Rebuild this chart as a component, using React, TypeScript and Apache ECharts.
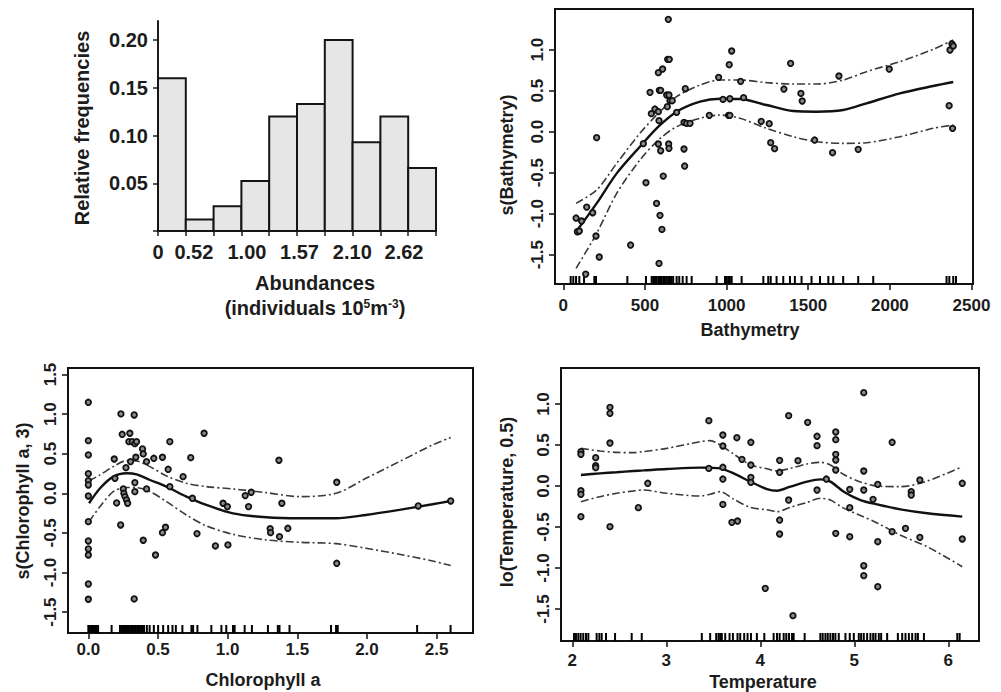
import React, { useEffect, useRef } from "react";
import * as echarts from "echarts";

// ---------- Histogram ----------
const histFreq = [0.16, 0.012, 0.026, 0.0525, 0.12, 0.133, 0.2, 0.093, 0.12, 0.066];
const histTickLabels = ["0", "0.52", "1.00", "1.57", "2.10", "2.62"];
const histTickAt = [0, 1.29, 3.2, 5.09, 6.99, 8.85]; // in bin units
const histYTicks = [0, 0.05, 0.1, 0.15, 0.2];

// ---------- Bathymetry ----------
const bathyX = [78, 112, 86, 98, 143, 180, 200, 137, 220, 204, 412, 490, 506, 531, 539, 561, 582, 571, 592, 604, 612, 596, 582, 586, 582, 608, 588, 596, 586, 643, 639, 649, 633, 647, 637, 653, 667, 645, 647, 694, 747, 739, 755, 776, 739, 743, 894, 951, 978, 1016, 1020, 1012, 1020, 1031, 1086, 1104, 1212, 1261, 1270, 1294, 1351, 1392, 1455, 1463, 1539, 1649, 1688, 1806, 1996, 2363, 2368, 2380, 2384, 2388];
const bathyY = [-1.053, -1.089, -1.22, -1.211, -0.919, -0.988, -1.272, -1.736, -1.528, -0.073, -1.382, -0.146, -0.622, 0.48, 0.22, 0.276, 0.244, -0.874, -1.02, -1.191, -0.541, -0.232, -0.15, -1.606, 0.72, 0.764, 0.504, 0.504, 0.134, 1.37, 0.882, 0.882, 0.447, 0.447, 0.305, 0.378, 0.378, -0.15, -0.203, 0.236, 0.524, 0.114, 0.102, 0.102, -0.211, -0.419, 0.199, 0.663, 0.394, 0.817, 0.402, 0.199, 0.199, 0.984, 0.614, 0.415, 0.126, 0.098, -0.134, -0.207, 0.52, 0.833, 0.467, 0.374, -0.102, -0.256, 0.679, -0.215, 0.764, 0.317, 0.996, 1.069, 0.041, 1.045];
const bathyCurveX = [78, 204, 327, 469, 582, 694, 837, 959, 1082, 1245, 1408, 1551, 1714, 1857, 2061, 2265, 2388];
const bathyFit = [-1.22, -0.874, -0.508, -0.183, 0.061, 0.244, 0.366, 0.402, 0.398, 0.325, 0.252, 0.244, 0.264, 0.346, 0.467, 0.557, 0.606];
const bathyUpper = [-0.874, -0.711, -0.386, -0.02, 0.224, 0.427, 0.569, 0.63, 0.63, 0.598, 0.581, 0.581, 0.63, 0.732, 0.854, 1.004, 1.118];
const bathyLower = [-1.667, -1.24, -0.752, -0.346, -0.102, 0.061, 0.163, 0.203, 0.163, 0.041, -0.061, -0.122, -0.142, -0.134, -0.061, 0.041, 0.081];
const bathyRug = [45, 61, 78, 98, 127, 190, 200, 392, 506, 541, 551, 561, 571, 582, 592, 602, 612, 622, 633, 643, 653, 663, 673, 694, 710, 731, 755, 786, 939, 990, 1000, 1010, 1020, 1031, 1092, 1225, 1255, 1270, 1306, 1347, 1388, 1418, 1459, 1520, 1572, 1623, 1653, 1714, 1806, 1898, 2347, 2364, 2388, 2405];
const bathyXTicks = [0, 500, 1000, 1500, 2000, 2500];
const bathyYTicks = [-1.5, -1, -0.5, 0, 0.5, 1];

// ---------- Chlorophyll a ----------
const chlX = [0, 0, 0, 0, 0, 0, 0, 0, 0, 0, 0, 0, 0, 0.186, 0.191, 0.203, 0.232, 0.234, 0.243, 0.251, 0.255, 0.263, 0.27, 0.274, 0.282, 0.291, 0.298, 0.303, 0.315, 0.334, 0.329, 0.334, 0.334, 0.329, 0.346, 0.341, 0.389, 0.394, 0.394, 0.418, 0.418, 0.47, 0.482, 0.532, 0.532, 0.554, 0.573, 0.585, 0.585, 0.68, 0.735, 0.747, 0.78, 0.831, 0.912, 0.967, 0.998, 1.002, 1.126, 1.15, 1.169, 1.305, 1.308, 1.368, 1.372, 1.389, 1.432, 1.783, 1.783, 2.368, 2.601];
const chlY = [1.149, 0.665, 0.484, 0.248, 0.16, 0.105, -0.034, -0.358, -0.602, -0.703, -0.779, -1.145, -1.338, 0.433, 0.189, -0.122, -0.4, 1.002, 0.745, 0.055, 0.0, -0.042, 0.324, -0.084, -0.126, 0.652, 0.758, 0.4, 0.652, 0.627, 0.989, 0.135, 0.021, -1.334, 0.652, 0.455, 0.56, 0.497, -0.593, 0.4, 0.055, 0.442, -0.779, 0.455, -0.497, -0.429, 0.303, 0.652, 0.084, 0.21, 0.45, -0.063, -0.509, 0.758, -0.665, -0.126, -0.168, -0.652, -0.029, -0.168, 0.013, -0.446, -0.497, 0.417, -0.547, -0.126, -0.442, 0.139, -0.884, -0.16, -0.097];
const chlCurveX = [0.005, 0.084, 0.179, 0.274, 0.346, 0.442, 0.561, 0.704, 0.847, 1.038, 1.277, 1.516, 1.778, 1.993, 2.232, 2.47, 2.601];
const chlFit = [-0.126, 0.063, 0.21, 0.253, 0.24, 0.168, 0.084, -0.042, -0.147, -0.253, -0.303, -0.316, -0.316, -0.274, -0.21, -0.139, -0.097];
const chlUpper = [0.156, 0.232, 0.337, 0.412, 0.408, 0.337, 0.219, 0.126, 0.084, 0.055, 0.008, -0.042, 0.0, 0.189, 0.4, 0.61, 0.703];
const chlLower = [-0.358, -0.168, 0.021, 0.074, 0.072, 0.021, -0.105, -0.274, -0.412, -0.518, -0.589, -0.619, -0.636, -0.694, -0.77, -0.854, -0.913];
const chlRug = [0, 0.01, 0.02, 0.03, 0.04, 0.05, 0.06, 0.07, 0.167, 0.227, 0.24, 0.25, 0.26, 0.27, 0.28, 0.29, 0.3, 0.31, 0.32, 0.33, 0.34, 0.35, 0.36, 0.37, 0.38, 0.39, 0.4, 0.42, 0.44, 0.47, 0.501, 0.537, 0.573, 0.604, 0.628, 0.675, 0.74, 0.752, 0.783, 0.883, 0.955, 0.99, 1.038, 1.05, 1.122, 1.174, 1.289, 1.36, 1.372, 1.444, 1.742, 1.778, 1.79, 2.36, 2.6];
const chlXTicks = [0, 0.5, 1, 1.5, 2, 2.5];
const chlYTicks = [-1.5, -1, -0.5, 0, 0.5, 1, 1.5];

// ---------- Temperature ----------
const tempX = [2.092, 2.092, 2.092, 2.092, 2.092, 2.249, 2.249, 2.249, 2.401, 2.401, 2.401, 2.401, 2.703, 2.803, 3.453, 3.453, 3.602, 3.602, 3.602, 3.602, 3.602, 3.698, 3.758, 3.751, 3.805, 3.9, 3.9, 3.9, 3.9, 4.053, 4.206, 4.206, 4.206, 4.206, 4.302, 4.302, 4.348, 4.401, 4.504, 4.604, 4.604, 4.604, 4.703, 4.803, 4.803, 4.803, 4.803, 4.803, 4.803, 4.952, 4.952, 4.952, 5.101, 5.101, 5.101, 5.101, 5.101, 5.2, 5.25, 5.25, 5.25, 5.403, 5.403, 5.545, 5.606, 5.606, 5.698, 5.698, 6.149, 6.149];
const tempY = [0.419, 0.386, -0.057, -0.102, -0.374, 0.346, 0.248, 0.224, 0.959, 0.886, 0.524, -0.496, -0.264, 0.033, 0.797, 0.215, 0.622, 0.488, 0.228, 0.085, -0.224, -0.443, -0.427, 0.589, 0.325, 0.533, 0.256, 0.106, 0.045, -1.248, 0.313, 0.167, -0.415, -0.585, 0.858, -0.171, -1.581, 0.309, 0.776, 0.606, 0.492, -0.049, 0.085, 0.659, 0.565, 0.386, 0.317, 0.195, -0.577, -0.041, -0.264, -0.618, 1.138, 0.183, -0.049, -0.972, -1.093, -0.163, 0.02, -0.679, -1.228, 0.533, -0.557, -0.516, -0.069, -0.11, 0.073, -0.626, 0.033, -0.646];
const tempCurveX = [2.092, 2.295, 2.472, 2.65, 2.757, 3.005, 3.361, 3.467, 3.574, 3.716, 3.893, 4.071, 4.178, 4.32, 4.497, 4.639, 4.746, 4.888, 5.066, 5.243, 5.492, 5.776, 6.149];
const tempFit = [0.134, 0.154, 0.168, 0.183, 0.19, 0.207, 0.224, 0.222, 0.215, 0.154, 0.053, -0.037, -0.057, -0.008, 0.053, 0.081, 0.053, -0.069, -0.171, -0.224, -0.285, -0.333, -0.374];
const tempUpper = [0.459, 0.427, 0.41, 0.407, 0.42, 0.459, 0.541, 0.553, 0.5, 0.39, 0.26, 0.21, 0.183, 0.215, 0.268, 0.289, 0.256, 0.14, 0.05, 0.0, -0.008, 0.06, 0.236];
const tempLower = [-0.191, -0.13, -0.089, -0.06, -0.049, -0.089, -0.122, -0.1, -0.069, -0.16, -0.26, -0.29, -0.313, -0.26, -0.2, -0.15, -0.171, -0.27, -0.36, -0.45, -0.6, -0.74, -0.984];
const tempRug = [2.018, 2.039, 2.064, 2.089, 2.117, 2.146, 2.171, 2.259, 2.288, 2.313, 2.359, 2.455, 2.632, 2.739, 3.378, 3.467, 3.531, 3.556, 3.574, 3.591, 3.627, 3.673, 3.709, 3.758, 3.787, 3.829, 3.865, 3.901, 3.964, 4.043, 4.142, 4.178, 4.206, 4.249, 4.277, 4.306, 4.338, 4.355, 4.472, 4.639, 4.664, 4.693, 4.718, 4.746, 4.774, 4.799, 4.835, 4.906, 4.952, 4.995, 5.048, 5.073, 5.101, 5.137, 5.172, 5.201, 5.226, 5.261, 5.286, 5.35, 5.464, 5.51, 5.545, 5.581, 5.616, 5.652, 5.677, 5.741, 6.096, 6.121];
const tempXTicks = [2, 3, 4, 5, 6];
const tempYTicks = [-1.5, -1, -0.5, 0, 0.5, 1];

const FONT = "'Liberation Sans', Arial, Helvetica, sans-serif";
const INK = "#1c1c1c";

function zip(xs: number[], ys: number[]) {
  return xs.map((x, i) => [x, ys[i]]);
}

function panelSeries(idx: number, px: number[], py: number[], cx: number[], fit: number[], up: number[], lo: number[], rug: number[], yMin: number) {
  const ci = { color: "#3a3a3a", width: 1.6, type: [8, 3, 2, 3] as any };
  return [
    {
      type: "custom",
      xAxisIndex: idx,
      yAxisIndex: idx,
      data: rug.map((x) => [x, yMin]),
      renderItem: (_p: any, api: any) => {
        const p = api.coord([api.value(0), api.value(1)]);
        return {
          type: "line",
          shape: { x1: p[0], y1: p[1], x2: p[0], y2: p[1] - 8 },
          style: { stroke: "#000", lineWidth: 2 },
        };
      },
      z: 3,
    },
    {
      type: "line",
      xAxisIndex: idx,
      yAxisIndex: idx,
      data: zip(cx, up),
      showSymbol: false,
      smooth: 0.3,
      lineStyle: ci,
      z: 4,
    },
    {
      type: "line",
      xAxisIndex: idx,
      yAxisIndex: idx,
      data: zip(cx, lo),
      showSymbol: false,
      smooth: 0.3,
      lineStyle: ci,
      z: 4,
    },
    {
      type: "line",
      xAxisIndex: idx,
      yAxisIndex: idx,
      data: zip(cx, fit),
      showSymbol: false,
      smooth: 0.3,
      lineStyle: { color: "#111", width: 2.4 },
      z: 5,
    },
    {
      type: "scatter",
      xAxisIndex: idx,
      yAxisIndex: idx,
      data: zip(px, py),
      symbol: "circle",
      symbolSize: 5.5,
      itemStyle: { color: "#8a8a8a", borderColor: "#111", borderWidth: 1.8, opacity: 1 },
      z: 6,
    },
  ];
}

function xAxisCfg(idx: number, min: number, max: number, ticks: number[], fmt: (v: number) => string, margin: number) {
  return {
    type: "value",
    gridIndex: idx,
    min,
    max,
    axisLine: { show: false, onZero: false },
    axisTick: { show: true, length: 6, customValues: ticks, lineStyle: { color: INK, width: 1.6 } },
    axisLabel: { customValues: ticks, formatter: fmt, margin, fontFamily: FONT, fontWeight: "bold", fontSize: 17, color: INK },
    splitLine: { show: false },
  };
}

function yAxisCfg(idx: number, min: number, max: number, ticks: number[], margin: number) {
  return {
    type: "value",
    gridIndex: idx,
    min,
    max,
    axisLine: { show: false, onZero: false },
    axisTick: { show: true, length: 6, customValues: ticks, lineStyle: { color: INK, width: 1.6 } },
    axisLabel: {
      customValues: ticks,
      rotate: 90,
      formatter: (v: number) => v.toFixed(1),
      margin,
      fontFamily: FONT,
      fontWeight: "bold",
      fontSize: 17,
      color: INK,
    },
    splitLine: { show: false },
  };
}

function title(text: string, x: number, y: number, size: number, rot = 0): any {
  return {
    type: "text",
    x,
    y,
    rotation: rot,
    style: {
      text,
      fill: INK,
      fontFamily: FONT,
      fontWeight: "bold",
      fontSize: size,
      align: "center",
      verticalAlign: "middle",
      textAlign: "center",
      textVerticalAlign: "middle",
    },
  };
}

export default function App() {
  const ref = useRef<HTMLDivElement>(null);
  useEffect(() => {
    if (!ref.current) return;
    const chart = echarts.init(ref.current, undefined, { renderer: "svg" });
    const boxed = { show: true, borderColor: "#111", borderWidth: 2, backgroundColor: "transparent" };
    const option: any = {
      animation: false,
      backgroundColor: "#ffffff",
      grid: [
        { left: 158, top: 21, width: 278, height: 210, show: false },
        { left: 555, top: 9, width: 418, height: 275, ...boxed },
        { left: 68, top: 368, width: 405, height: 265, ...boxed },
        { left: 561, top: 368, width: 418, height: 273, ...boxed },
      ],
      xAxis: [
        {
          type: "value",
          gridIndex: 0,
          min: 0,
          max: 10,
          axisLine: { show: true, onZero: false, lineStyle: { color: INK, width: 2 } },
          axisTick: { show: true, length: 5, customValues: [0, 1, 2, 3, 4, 5, 6, 7, 8, 9, 10], lineStyle: { color: INK, width: 1.5 } },
          axisLabel: {
            customValues: histTickAt,
            formatter: (v: number) => {
              let best = 0;
              histTickAt.forEach((t, i) => {
                if (Math.abs(t - v) < Math.abs(histTickAt[best] - v)) best = i;
              });
              return histTickLabels[best];
            },
            margin: 11,
            fontFamily: FONT,
            fontWeight: "bold",
            fontSize: 20,
            color: INK,
          },
          splitLine: { show: false },
        },
        xAxisCfg(1, -51, 2509, bathyXTicks, (v) => String(Math.round(v)), 13),
        xAxisCfg(2, -0.146, 2.761, chlXTicks, (v) => v.toFixed(1), 8),
        xAxisCfg(3, 1.88, 6.327, tempXTicks, (v) => String(Math.round(v)), 11),
      ],
      yAxis: [
        {
          type: "value",
          gridIndex: 0,
          min: 0,
          max: 0.22,
          axisLine: { show: true, onZero: false, lineStyle: { color: INK, width: 2 } },
          axisTick: { show: true, length: 5, customValues: histYTicks, lineStyle: { color: INK, width: 1.5 } },
          axisLabel: {
            customValues: histYTicks.filter((v) => v > 0),
            formatter: (v: number) => v.toFixed(2),
            margin: 10,
            fontFamily: FONT,
            fontWeight: "bold",
            fontSize: 20,
            color: INK,
          },
          splitLine: { show: false },
        },
        yAxisCfg(1, -1.857, 1.496, bathyYTicks, 9),
        yAxisCfg(2, -1.764, 1.582, chlYTicks, 9),
        yAxisCfg(3, -1.89, 1.439, tempYTicks, 9),
      ],
      series: [
        {
          type: "custom",
          xAxisIndex: 0,
          yAxisIndex: 0,
          data: histFreq.map((f, i) => [i, f]),
          renderItem: (_p: any, api: any) => {
            const i = api.value(0);
            const h = api.value(1);
            const a = api.coord([i, h]);
            const b = api.coord([i + 1, 0]);
            return {
              type: "rect",
              shape: { x: a[0], y: a[1], width: b[0] - a[0], height: b[1] - a[1] },
              style: { fill: "#e6e6e6", stroke: "#151515", lineWidth: 2 },
            };
          },
          z: 2,
        },
        ...panelSeries(1, bathyX, bathyY, bathyCurveX, bathyFit, bathyUpper, bathyLower, bathyRug, -1.857),
        ...panelSeries(2, chlX, chlY, chlCurveX, chlFit, chlUpper, chlLower, chlRug, -1.764),
        ...panelSeries(3, tempX, tempY, tempCurveX, tempFit, tempUpper, tempLower, tempRug, -1.89),
      ],
      graphic: [
        title("Relative frequencies", 82, 128, 20, Math.PI / 2),
        title("Abundances", 315, 283, 20),
        {
          type: "text",
          x: 315,
          y: 308,
          style: {
            text: "{n|(individuals 10}{s|5}{n|m}{s|-3}{n|)}",
            align: "center",
            verticalAlign: "middle",
            textAlign: "center",
            textVerticalAlign: "middle",
            rich: {
              n: { fontFamily: FONT, fontWeight: "bold", fontSize: 20, fill: INK, color: INK },
              s: { fontFamily: FONT, fontWeight: "bold", fontSize: 12, fill: INK, color: INK, verticalAlign: "top" },
            },
          },
        },
        title("s(Bathymetry)", 507, 155, 18, Math.PI / 2),
        title("Bathymetry", 750, 330, 18),
        title("s(Chlorophyll a, 3)", 23, 501, 18, Math.PI / 2),
        title("Chlorophyll a", 263, 680, 18),
        title("lo(Temperature, 0.5)", 507, 502, 18, Math.PI / 2),
        title("Temperature", 763, 682, 18),
      ],
    };
    chart.setOption(option);
    return () => chart.dispose();
  }, []);
  return (
    <div
      ref={ref}
      style={{ position: "fixed", left: 0, top: 0, width: 1001, height: 692, background: "#fff" }}
    />
  );
}
